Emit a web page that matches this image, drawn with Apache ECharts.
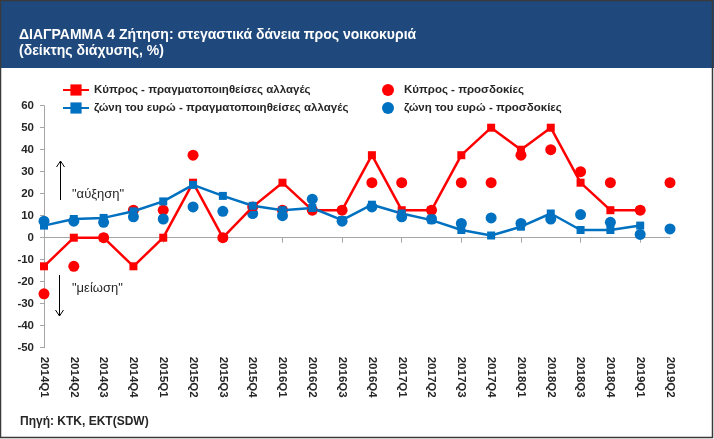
<!DOCTYPE html>
<html>
<head>
<meta charset="utf-8">
<script src="https://cdn.jsdelivr.net/npm/echarts@6/dist/echarts.min.js"></script>
<style>
html,body{margin:0;padding:0;background:#fff;}
#chart{width:714px;height:439px;}
</style>
</head>
<body>
<div id="chart"></div>
<script>
// ---- data ----
var categories = ['2014Q1','2014Q2','2014Q3','2014Q4','2015Q1','2015Q2','2015Q3','2015Q4',
  '2016Q1','2016Q2','2016Q3','2016Q4','2017Q1','2017Q2','2017Q3','2017Q4',
  '2018Q1','2018Q2','2018Q3','2018Q4','2019Q1','2019Q2'];
var cyprusRealized = [-13, 0, 0, -13, 0, 25, 0, 14, 25, 12.5, 12.5, 37.5, 12.5, 12.5, 37.5, 50, 40, 50, 25, 12.5, 12.5, null];
var euroRealized = [5.5, 8.5, 9, 12, 16.5, 24, 19, 14.5, 12.5, 13.5, 8, 15, 11, 8, 3.5, 1, 5, 11, 3.5, 3.5, 5.5, null];
var cyprusExpect = [-25.5, -13, 0, 12.5, 12.5, 37.5, 0, 14, 12.5, 12.5, 12.5, 25, 25, 12.5, 25, 25, 37.5, 40, 30, 25, 12.5, 25];
var euroExpect = [7.5, 7.5, 7, 9.5, 8.5, 14, 12, 11, 10, 17.5, 7.5, 14, 9.5, 8.5, 6.5, 9, 6.5, 8.5, 10.5, 7, 1.5, 4];
var seriesNames = ['Κύπρος - πραγματοποιηθείσες αλλαγές', 'ζώνη του ευρώ - πραγματοποιηθείσες αλλαγές',
  'Κύπρος - προσδοκίες', 'ζώνη του ευρώ - προσδοκίες'];
var titleText = 'ΔΙΑΓΡΑΜΜΑ 4 Ζήτηση: στεγαστικά δάνεια προς νοικοκυριά\n(δείκτης διάχυσης, %)';
var sourceText = 'Πηγή: KTK, EKT(SDW)';

var RED = '#ff0000', BLUE = '#0070c0', TXT = '#262626';
var labelFont = {fontFamily: 'Liberation Sans, Arial, sans-serif', fontWeight: 'bold', fontSize: 11.5, color: TXT};

var chart = echarts.init(document.getElementById('chart'), null, {renderer: 'canvas'});
chart.setOption({
  animation: false,
  backgroundColor: '#ffffff',
  title: {
    text: titleText,
    left: 14, top: 22, padding: 5,
    textStyle: {color: '#ffffff', fontFamily: 'Liberation Sans, Arial, sans-serif',
      fontWeight: 'bold', fontSize: 14, lineHeight: 16}
  },
  legend: [{
    data: [seriesNames[0], seriesNames[1]],
    orient: 'vertical', left: 57, top: 79, itemGap: 6,
    itemWidth: 26, itemHeight: 14,
    textStyle: {fontFamily: 'Liberation Sans, Arial, sans-serif', fontWeight: 'bold', fontSize: 11.5, color: TXT}
  }, {
    data: [seriesNames[2], seriesNames[3]],
    orient: 'vertical', left: 377, top: 79, itemGap: 6,
    itemWidth: 12, itemHeight: 14,
    textStyle: {fontFamily: 'Liberation Sans, Arial, sans-serif', fontWeight: 'bold', fontSize: 11.5, color: TXT, padding: [0,0,0,5]}
  }],
  grid: {left: 44, right: 44, top: 105.7, bottom: 91.3, containLabel: false},
  xAxis: [{
    type: 'category', data: categories, boundaryGap: false,
    axisLine: {onZero: true, lineStyle: {color: '#a6a6a6', width: 1}},
    axisTick: {show: true, length: 5, lineStyle: {color: '#a6a6a6'}},
    axisLabel: {show: false},
    splitLine: {show: false}
  }, {
    type: 'category', data: categories, boundaryGap: false, position: 'bottom',
    axisLine: {show: false, onZero: false}, axisTick: {show: false},
    axisLabel: Object.assign({rotate: -90, margin: 9, interval: 0}, labelFont),
    splitLine: {show: false}
  }],
  yAxis: {
    type: 'value', min: -50, max: 60, interval: 10,
    axisLine: {show: true, lineStyle: {color: '#a6a6a6'}},
    axisTick: {show: true, length: 4, lineStyle: {color: '#a6a6a6'}},
    axisLabel: Object.assign({margin: 10}, labelFont),
    splitLine: {show: false}
  },
  series: [{
    name: seriesNames[0], type: 'line', data: cyprusRealized, xAxisIndex: 0,
    symbol: 'rect', symbolSize: 8, showAllSymbol: true,
    lineStyle: {color: RED, width: 2.5}, itemStyle: {color: RED}
  }, {
    name: seriesNames[1], type: 'line', data: euroRealized, xAxisIndex: 0,
    symbol: 'rect', symbolSize: 8, showAllSymbol: true,
    lineStyle: {color: BLUE, width: 2.5}, itemStyle: {color: BLUE}
  }, {
    name: seriesNames[2], type: 'scatter', data: cyprusExpect, xAxisIndex: 0,
    symbol: 'circle', symbolSize: 11, itemStyle: {color: RED, opacity: 1}
  }, {
    name: seriesNames[3], type: 'scatter', data: euroExpect, xAxisIndex: 0,
    symbol: 'circle', symbolSize: 11, itemStyle: {color: BLUE, opacity: 1}
  }],
  graphic: [
    {type: 'rect', z: -10, silent: true, shape: {x: 0, y: 0, width: 714, height: 68}, style: {fill: '#1f497d'}},
    {type: 'rect', z: 100, silent: true, shape: {x: 0.5, y: 0.5, width: 712, height: 437}, style: {fill: 'none', stroke: '#3a3a3a', lineWidth: 1.5}},
    // up arrow
    {type: 'line', silent: true, shape: {x1: 60.5, y1: 200, x2: 60.5, y2: 161}, style: {stroke: '#000', lineWidth: 1}},
    {type: 'polyline', silent: true, shape: {points: [[56.5, 167], [60.5, 161], [64.5, 167]]}, style: {stroke: '#000', lineWidth: 1, fill: 'none'}},
    {type: 'text', silent: true, left: 72, top: 188, style: {text: '"αύξηση"', fill: TXT, font: '13px Liberation Sans, Arial, sans-serif'}},
    // down arrow
    {type: 'line', silent: true, shape: {x1: 59.5, y1: 275, x2: 59.5, y2: 316}, style: {stroke: '#000', lineWidth: 1}},
    {type: 'polyline', silent: true, shape: {points: [[55.5, 310], [59.5, 316], [63.5, 310]]}, style: {stroke: '#000', lineWidth: 1, fill: 'none'}},
    {type: 'text', silent: true, left: 72, top: 282, style: {text: '"μείωση"', fill: TXT, font: '13px Liberation Sans, Arial, sans-serif'}},
    // source
    {type: 'text', silent: true, left: 20, top: 416, style: {text: sourceText, fill: TXT, font: 'bold 12px Liberation Sans, Arial, sans-serif'}}
  ]
});
</script>
</body>
</html>
